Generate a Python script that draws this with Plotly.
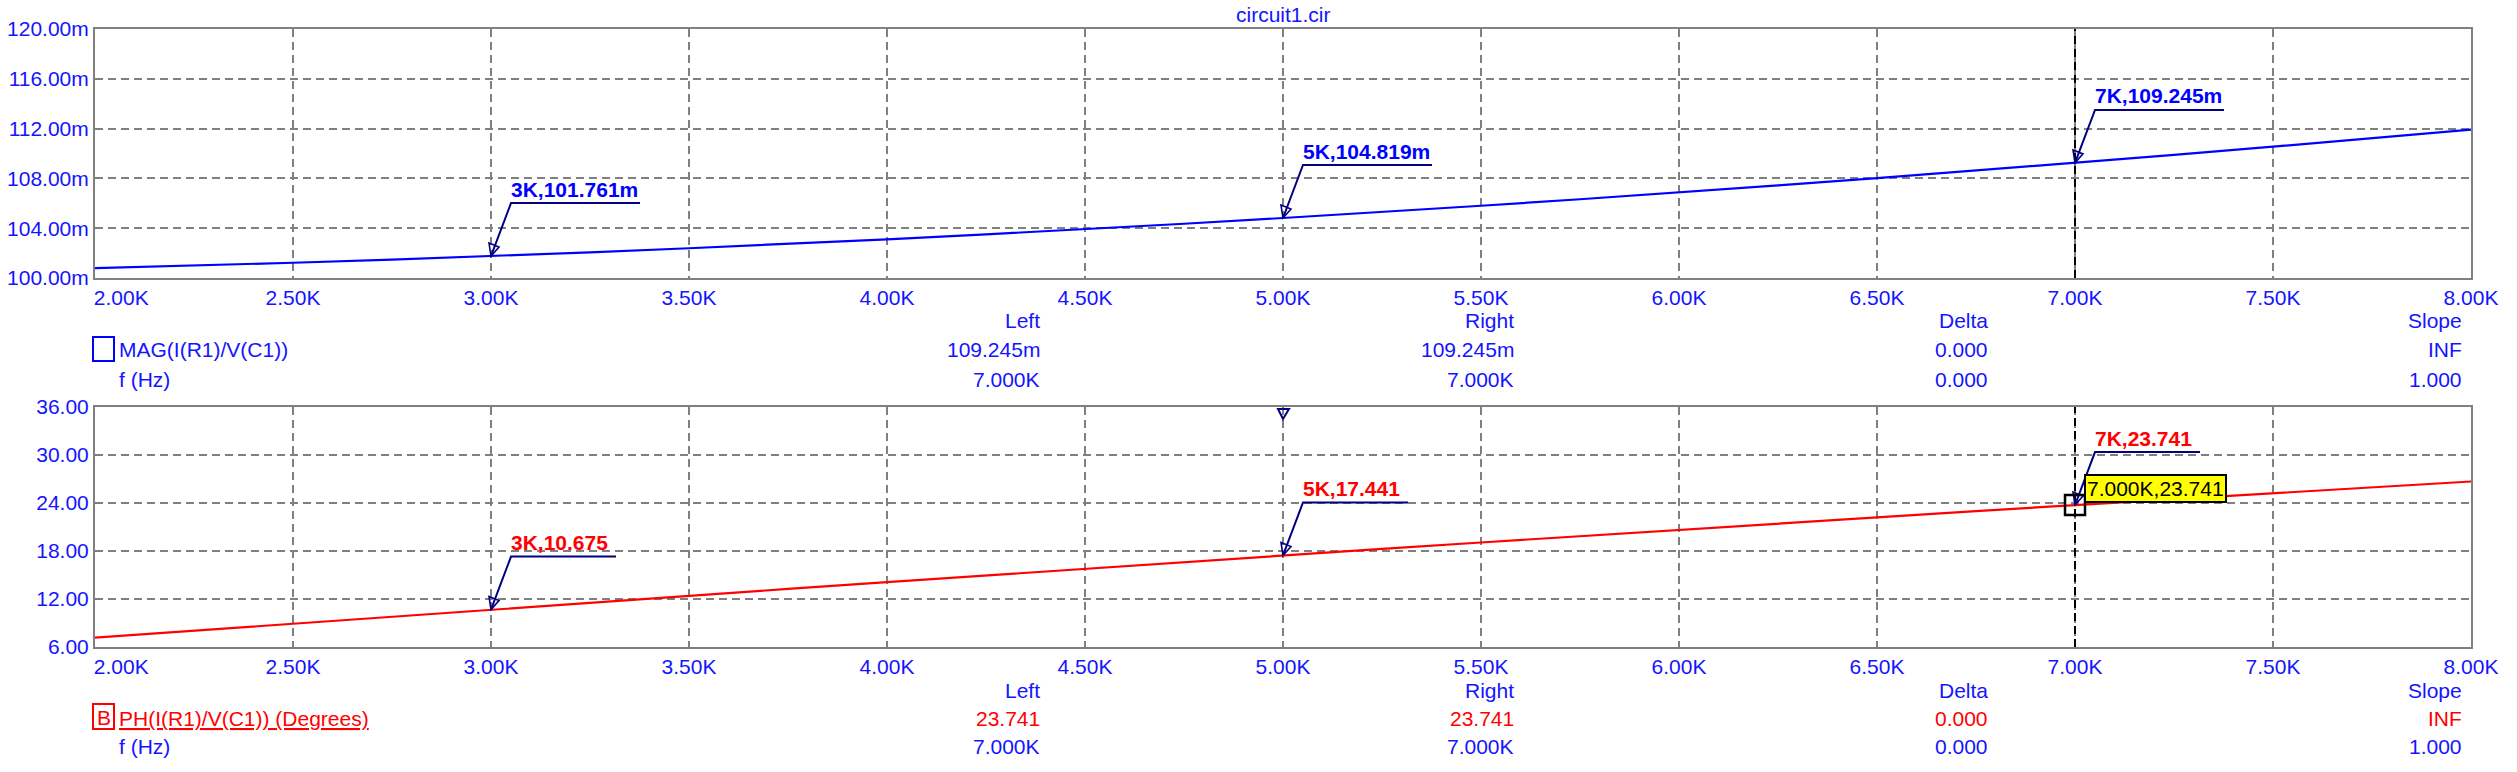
import plotly.graph_objects as go

W, H = 2517, 772
FONT = "Liberation Sans, Arial, sans-serif"
BLUE = "rgb(20,20,255)"
RED = "rgb(255,0,0)"
NAVY = "rgb(0,0,128)"
GRAY = "rgb(128,128,128)"

# ---------------- data ----------------
freq_hz = [2000, 2250, 2500, 2750, 3000, 3250, 3500, 3750, 4000, 4250, 4500, 4750,
           5000, 5250, 5500, 5750, 6000, 6250, 6500, 6750, 7000, 7250, 7500, 7750, 8000]
mag_m = [100.786, 100.994, 101.226, 101.482, 101.761, 102.064, 102.390, 102.738,
         103.110, 103.504, 103.920, 104.359, 104.819, 105.300, 105.803, 106.326,
         106.870, 107.434, 108.019, 108.622, 109.245, 109.887, 110.547, 111.226, 111.922]
phase_deg = [7.162, 8.046, 8.927, 9.804, 10.675, 11.541, 12.403, 13.258, 14.108,
             14.952, 15.789, 16.619, 17.441, 18.257, 19.065, 19.864, 20.656, 21.440,
             22.215, 22.983, 23.741, 24.491, 25.230, 25.964, 26.690]

x_tick_vals = [2000, 2500, 3000, 3500, 4000, 4500, 5000, 5500, 6000, 6500, 7000, 7500, 8000]
x_tick_text = ["2.00K", "2.50K", "3.00K", "3.50K", "4.00K", "4.50K", "5.00K",
               "5.50K", "6.00K", "6.50K", "7.00K", "7.50K", "8.00K"]
mag_tick_vals = [100, 104, 108, 112, 116, 120]
mag_tick_text = ["100.00m", "104.00m", "108.00m", "112.00m", "116.00m", "120.00m"]
phase_tick_vals = [6, 12, 18, 24, 30, 36]
phase_tick_text = ["6.00", "12.00", "18.00", "24.00", "30.00", "36.00"]

marker_freq = [3000, 5000, 7000]
mag_marker_vals = [101.761, 104.819, 109.245]
mag_marker_text = ["3K,101.761m", "5K,104.819m", "7K,109.245m"]
phase_marker_vals = [10.675, 17.441, 23.741]
phase_marker_text = ["3K,10.675", "5K,17.441", "7K,23.741"]

cursor_freq = 7000
cursor_phase = 23.741
cursor_label = "7.000K,23.741"
top_edge_marker_freq = 5000

title_text = "circuit1.cir"
table_headers = ["Left", "Right", "Delta", "Slope"]
mag_value_row = ["109.245m", "109.245m", "0.000", "INF"]
mag_freq_row = ["7.000K", "7.000K", "0.000", "1.000"]
ph_value_row = ["23.741", "23.741", "0.000", "INF"]
ph_freq_row = ["7.000K", "7.000K", "0.000", "1.000"]
mag_name = "MAG(I(R1)/V(C1))"
ph_name = "PH(I(R1)/V(C1)) (Degrees)"
freq_name = "f (Hz)"

# ---------------- layout helpers ----------------
def px(x):
    return x / W

def py(y):
    return 1 - y / H

PLOT_L, PLOT_R = 95, 2471
TOP_T, TOP_B = 29, 278
BOT_T, BOT_B = 407, 647

fig = go.Figure()
fig.add_trace(go.Scatter(x=freq_hz, y=mag_m, mode="lines", xaxis="x", yaxis="y",
                         line=dict(color="rgb(0,0,255)", width=2.2), showlegend=False,
                         hoverinfo="skip"))
fig.add_trace(go.Scatter(x=freq_hz, y=phase_deg, mode="lines", xaxis="x2", yaxis="y2",
                         line=dict(color=RED, width=2.2), showlegend=False,
                         hoverinfo="skip"))

pad = "\u00a0" * 9
x_tick_disp = [pad + x_tick_text[0]] + x_tick_text[1:]

common_ax = dict(showline=True, mirror=True, linecolor=GRAY, linewidth=2,
                 showgrid=True, gridcolor=GRAY, gridwidth=2, griddash="8px,5px",
                 zeroline=False, ticks="", automargin=False,
                 tickfont=dict(family=FONT, size=21, color=BLUE),
                 fixedrange=True)

fig.update_layout(
    template="none",
    width=W, height=H, autosize=False,
    margin=dict(l=0, r=0, t=0, b=0, pad=0),
    paper_bgcolor="white", plot_bgcolor="white",
    xaxis=dict(domain=[px(PLOT_L), px(PLOT_R)], anchor="y", range=[2000, 8000],
               tickmode="array", tickvals=x_tick_vals, ticktext=x_tick_disp, **common_ax),
    yaxis=dict(domain=[py(TOP_B), py(TOP_T)], anchor="x", range=[100, 120],
               tickmode="array", tickvals=mag_tick_vals, ticktext=mag_tick_text, **common_ax),
    xaxis2=dict(domain=[px(PLOT_L), px(PLOT_R)], anchor="y2", range=[2000, 8000],
                tickmode="array", tickvals=x_tick_vals, ticktext=x_tick_disp, **common_ax),
    yaxis2=dict(domain=[py(BOT_B), py(BOT_T)], anchor="x2", range=[6, 36],
                tickmode="array", tickvals=phase_tick_vals, ticktext=phase_tick_text, **common_ax),
)

shapes = []
annotations = []

# cursor lines at 7K (black dashed)
for xr, yr in (("x", "y domain"), ("x2", "y2 domain")):
    shapes.append(dict(type="line", xref=xr, yref=yr, x0=cursor_freq, x1=cursor_freq,
                       y0=0, y1=1, line=dict(color="black", width=2, dash="8px,5px"),
                       layer="above"))

DX, DY = 20, 53
ARROW = "M0,0 L-2,13 L8,9 Z"

def add_marker(xr, yr, xv, yv, label, color, line_len):
    shapes.append(dict(type="path", xref=xr, yref=yr, xsizemode="pixel", ysizemode="pixel",
                       xanchor=xv, yanchor=yv,
                       path=f"M0,0 L{DX},{DY} L{DX + line_len},{DY}",
                       line=dict(color=NAVY, width=2), layer="above"))
    shapes.append(dict(type="path", xref=xr, yref=yr, xsizemode="pixel", ysizemode="pixel",
                       xanchor=xv, yanchor=yv, path=ARROW,
                       line=dict(color=NAVY, width=1.6), fillcolor="rgba(0,0,0,0)",
                       layer="above"))
    annotations.append(dict(xref=xr, yref=yr, x=xv, y=yv, text=f"<b>{label}</b>",
                            showarrow=False, xanchor="left", yanchor="middle",
                            xshift=DX - 1, yshift=DY + 14, borderpad=0,
                            font=dict(family=FONT, size=21, color=color)))

for f, v, t in zip(marker_freq, mag_marker_vals, mag_marker_text):
    add_marker("x", "y", f, v, t, "rgb(0,0,255)", 129)
for f, v, t in zip(marker_freq, phase_marker_vals, phase_marker_text):
    add_marker("x2", "y2", f, v, t, RED, 105)

# small marker on the top edge of the phase plot
shapes.append(dict(type="path", xref="x2", yref="y2 domain", xsizemode="pixel",
                   ysizemode="pixel", xanchor=top_edge_marker_freq, yanchor=1,
                   path="M-5,-2 L6,-2 L0,-12 Z", line=dict(color=NAVY, width=2),
                   fillcolor="rgba(0,0,0,0)", layer="above"))

# cursor square + yellow readout
shapes.append(dict(type="rect", xref="x2", yref="y2", xsizemode="pixel", ysizemode="pixel",
                   xanchor=cursor_freq, yanchor=cursor_phase, x0=-10, x1=10, y0=-10, y1=10,
                   line=dict(color="black", width=2.5), layer="above"))
annotations.append(dict(xref="x2", yref="y2", x=cursor_freq, y=cursor_phase,
                        text=cursor_label, showarrow=False, xanchor="left", yanchor="bottom",
                        xshift=9, yshift=2, bgcolor="rgb(255,255,0)", bordercolor="black",
                        borderwidth=2, borderpad=1,
                        font=dict(family=FONT, size=21, color="black")))

# title
annotations.append(dict(xref="paper", yref="paper", x=px((PLOT_L + PLOT_R) / 2), y=py(15),
                        text=title_text, showarrow=False, xanchor="center", yanchor="middle",
                        font=dict(family=FONT, size=21, color=BLUE)))

# tables
col_right = [1042, 1516, 1990, 2464]

def add_table(rows_y, header, value_row, freq_row, value_color):
    for cx, txt in zip(col_right, header):
        annotations.append(dict(xref="paper", yref="paper", x=px(cx), y=py(rows_y[0]),
                                text=txt, showarrow=False, xanchor="right", yanchor="middle",
                                font=dict(family=FONT, size=21, color=BLUE)))
    for cx, txt in zip(col_right, value_row):
        annotations.append(dict(xref="paper", yref="paper", x=px(cx), y=py(rows_y[1]),
                                text=txt, showarrow=False, xanchor="right", yanchor="middle",
                                font=dict(family=FONT, size=21, color=value_color)))
    for cx, txt in zip(col_right, freq_row):
        annotations.append(dict(xref="paper", yref="paper", x=px(cx), y=py(rows_y[2]),
                                text=txt, showarrow=False, xanchor="right", yanchor="middle",
                                font=dict(family=FONT, size=21, color=BLUE)))
    annotations.append(dict(xref="paper", yref="paper", x=px(117), y=py(rows_y[2]),
                            text=freq_name, showarrow=False, xanchor="left", yanchor="middle",
                            font=dict(family=FONT, size=21, color=BLUE)))

top_rows = [321, 349, 379]
bot_rows = [690, 718, 746]
add_table(top_rows, table_headers, mag_value_row, mag_freq_row, BLUE)
add_table(bot_rows, table_headers, ph_value_row, ph_freq_row, RED)

# trace labels with their boxes
shapes.append(dict(type="rect", xref="paper", yref="paper", x0=px(93), x1=px(114),
                   y0=py(361), y1=py(337), line=dict(color="rgb(0,0,255)", width=2)))
annotations.append(dict(xref="paper", yref="paper", x=px(117), y=py(349), text=mag_name,
                        showarrow=False, xanchor="left", yanchor="middle",
                        font=dict(family=FONT, size=21, color=BLUE)))
shapes.append(dict(type="rect", xref="paper", yref="paper", x0=px(93), x1=px(114),
                   y0=py(729), y1=py(704), line=dict(color=RED, width=2)))
annotations.append(dict(xref="paper", yref="paper", x=px(103.5), y=py(717), text="B",
                        showarrow=False, xanchor="center", yanchor="middle",
                        font=dict(family=FONT, size=21, color=RED)))
annotations.append(dict(xref="paper", yref="paper", x=px(117), y=py(718),
                        text=f"<u>{ph_name}</u>", showarrow=False, xanchor="left",
                        yanchor="middle", font=dict(family=FONT, size=21, color=RED)))

fig.update_layout(shapes=shapes, annotations=annotations)
fig.write_html("out.html", config={"displayModeBar": False},
               post_script="document.body.style.margin='0';document.body.style.overflow='hidden';")
